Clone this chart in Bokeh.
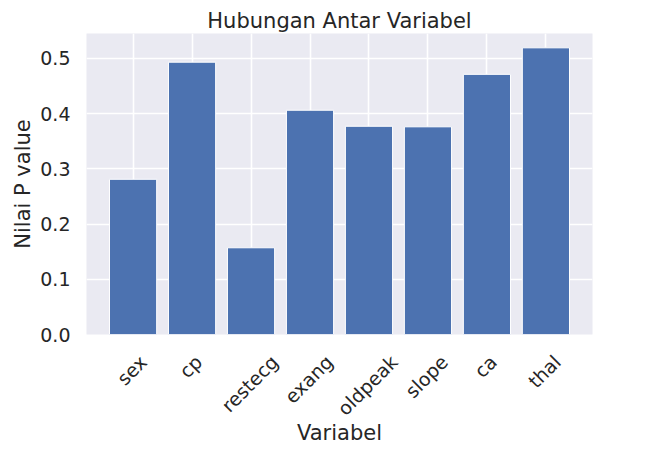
import math
from bokeh.plotting import figure
from bokeh.models import Range1d, FixedTicker, ColumnDataSource
from bokeh.embed import file_html
from bokeh.resources import INLINE

categories = ["sex", "cp", "restecg", "exang", "oldpeak", "slope", "ca", "thal"]
p_values = [0.281, 0.493, 0.157, 0.406, 0.377, 0.376, 0.471, 0.519]
y_ticks = [0.0, 0.1, 0.2, 0.3, 0.4, 0.5]

TEXT = "#262626"
FONT = "DejaVu Sans"
TICK_PX = 19
FRAME_W = 506

# approximate DejaVu Sans advance widths (em), used to centre the rotated labels
CHAR_W = {"a": .613, "c": .550, "d": .635, "e": .615, "g": .635, "h": .634,
          "k": .579, "l": .278, "n": .634, "o": .612, "p": .635, "r": .411,
          "s": .521, "t": .392, "x": .592}

xs = list(range(len(categories)))
src = ColumnDataSource(dict(x=xs, top=p_values))

n = len(categories)
pad = (n - 1 + 0.8) * 0.05
x_start, x_end = -0.4 - pad, n - 1 + 0.4 + pad
p = figure(frame_width=FRAME_W, frame_height=301,
           x_range=Range1d(x_start, x_end),
           y_range=Range1d(0, max(p_values) * 1.05),
           output_backend="svg", toolbar_location=None,
           min_border_left=86, min_border_right=46,
           min_border_top=33, min_border_bottom=118,
           title="Hubungan Antar Variabel")

p.background_fill_color = "#EAEAF2"
p.border_fill_color = "white"
p.outline_line_color = None

p.vbar(x="x", top="top", bottom=0, width=0.8, source=src,
       fill_color="#4C72B0", line_color="white", line_width=1)

p.title.align = "center"
p.title.text_font = FONT
p.title.text_font_size = "21px"
p.title.text_font_style = "normal"
p.title.text_color = TEXT
p.title.standoff = 2

# Bokeh right-aligns 45-degree labels at the tick; shift each label's tick so the
# label ends up centred under its bar (matplotlib rotation=45 style)
px_per_unit = FRAME_W / (x_end - x_start)
c45 = math.cos(math.pi / 4)
label_ticks = []
for i, c in enumerate(categories):
    w = sum(CHAR_W.get(ch, 0.6) for ch in c) * TICK_PX
    label_ticks.append(i + (w * c45 / 2 - 1.5) / px_per_unit)

p.xaxis.ticker = FixedTicker(ticks=label_ticks)
p.xaxis.major_label_overrides = {t: c for t, c in zip(label_ticks, categories)}
p.xaxis.major_label_orientation = math.pi / 4
p.xgrid.ticker = FixedTicker(ticks=xs)
p.yaxis.ticker = FixedTicker(ticks=y_ticks)
p.yaxis.major_label_overrides = {t: f"{t:.1f}" for t in y_ticks}

for ax in (p.xaxis[0], p.yaxis[0]):
    ax.axis_line_color = None
    ax.major_tick_line_color = None
    ax.minor_tick_line_color = None
    ax.major_tick_out = 0
    ax.major_tick_in = 0
    ax.major_label_text_font = FONT
    ax.major_label_text_font_size = f"{TICK_PX}px"
    ax.major_label_text_color = TEXT
    ax.axis_label_text_font = FONT
    ax.axis_label_text_font_size = "21px"
    ax.axis_label_text_font_style = "normal"
    ax.axis_label_text_color = TEXT

p.xaxis.axis_label = "Variabel"
p.yaxis.axis_label = "Nilai P value"
p.yaxis.major_label_standoff = 16
p.xaxis.major_label_standoff = 24
p.yaxis.axis_label_standoff = 2
p.xaxis.axis_label_standoff = -9

p.xgrid.grid_line_color = "white"
p.ygrid.grid_line_color = "white"
p.xgrid.grid_line_width = 1.6
p.ygrid.grid_line_width = 1.6
p.xgrid.level = "underlay"
p.ygrid.level = "underlay"

open("out.html", "w").write(file_html(p, INLINE))
